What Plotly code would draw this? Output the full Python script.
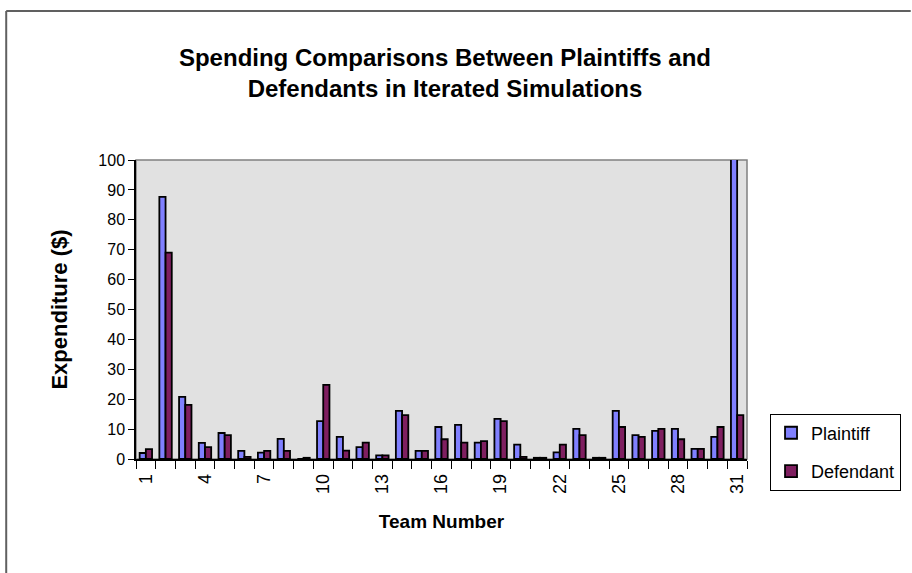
import plotly.graph_objects as go

# Team numbers 1..31 and spending per side
teams = [str(i) for i in range(1, 32)]
plaintiff = [2.0, 87.7, 20.8, 5.4, 8.7, 2.7, 2.1, 6.7, 0.0, 12.7,
             7.4, 4.0, 1.2, 16.1, 2.7, 10.7, 11.4, 5.5, 13.4, 4.8,
             0.4, 2.2, 10.1, 0.4, 16.1, 8.0, 9.4, 10.1, 3.4, 7.4,
             110.0]
defendant = [3.3, 69.0, 18.1, 4.0, 8.0, 0.7, 2.7, 2.7, 0.4, 24.8,
             2.8, 5.5, 1.2, 14.7, 2.7, 6.6, 5.5, 6.0, 12.7, 0.7,
             0.4, 4.8, 8.0, 0.4, 10.7, 7.4, 10.1, 6.6, 3.4, 10.7,
             14.7]
tick_text = [t if (int(t) - 1) % 3 == 0 else "" for t in teams]
y_ticks = list(range(0, 101, 10))

FONT = "Liberation Sans, Arial, sans-serif"

fig = go.Figure()
fig.add_trace(go.Bar(
    x=teams, y=plaintiff, name="Plaintiff", legendgroup="p",
    marker=dict(color="#8080FF", line=dict(color="#000000", width=1.8)),
))
fig.add_trace(go.Bar(
    x=teams, y=defendant, name="Defendant", legendgroup="d",
    marker=dict(color="#7F1F60", line=dict(color="#000000", width=1.8)),
))

fig.update_layout(
    width=912, height=573,
    margin=dict(l=136, r=164, t=160, b=114),
    paper_bgcolor="#FFFFFF",
    plot_bgcolor="#E1E1E1",
    font=dict(family=FONT, size=16, color="#000000"),
    barmode="group",
    bargap=0.37,
    bargroupgap=0.0,
    title=dict(
        text="Spending Comparisons Between Plaintiffs and<br>Defendants in Iterated Simulations",
        font=dict(family=FONT, size=24, color="#000000", weight="bold"),
        x=445 / 912, xanchor="center", xref="container",
        y=1 - 66 / 573, yanchor="top", yref="container",
    ),
    legend=dict(
        x=1.036, xanchor="left", y=0.152, yanchor="top",
        bordercolor="#000000", borderwidth=1, bgcolor="#FFFFFF",
        font=dict(family=FONT, size=18),
        traceorder="grouped", tracegroupgap=12,
        itemwidth=30,
    ),
    showlegend=True,
)

fig.update_xaxes(
    type="category",
    tickmode="array", tickvals=teams, ticktext=tick_text,
    tickson="boundaries", ticks="outside", ticklen=8, tickcolor="#000000",
    tickangle=-90, tickfont=dict(size=18), ticklabelstandoff=6,
    showline=True, linecolor="#000000", linewidth=1.5,
    showgrid=False, zeroline=False,
    title=dict(text="<b>Team Number</b>", font=dict(family=FONT, size=19), standoff=22),
)
fig.update_yaxes(
    range=[0, 100], tickvals=y_ticks,
    ticks="outside", ticklen=6, tickcolor="#000000",
    showline=True, linecolor="#000000", linewidth=1.5,
    showgrid=False, zeroline=False,
    title=dict(text="<b>Expenditure ($)</b>", font=dict(family=FONT, size=22), standoff=25),
)

# Gray frame around the plot area
fig.add_shape(type="rect", xref="paper", yref="paper", x0=0, x1=1, y0=0, y1=1,
              line=dict(color="#808080", width=1.5), layer="below")

# Chart-area border (top and left edges)
fig.add_shape(type="line", xref="paper", yref="paper",
              x0=(6 - 136) / 612, x1=(912 - 136) / 612,
              y0=(459 - 11) / 299, y1=(459 - 11) / 299,
              line=dict(color="#606060", width=2))
fig.add_shape(type="line", xref="paper", yref="paper",
              x0=(6 - 136) / 612, x1=(6 - 136) / 612,
              y0=(459 - 11) / 299, y1=(459 - 573) / 299,
              line=dict(color="#606060", width=2))

fig.write_html("out.html")
